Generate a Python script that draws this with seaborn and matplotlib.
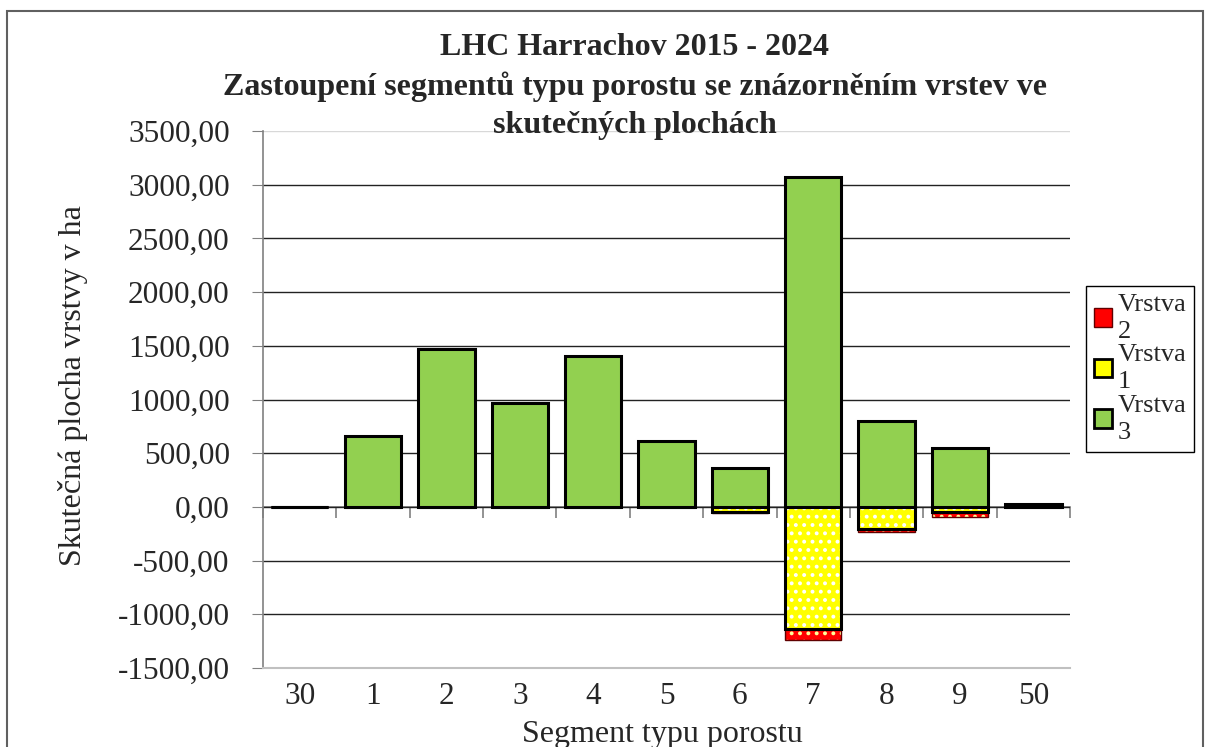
import matplotlib
matplotlib.use("Agg")
import matplotlib.pyplot as plt
import numpy as np
import seaborn as sns
from matplotlib.patches import Patch, Rectangle
from matplotlib.ticker import FuncFormatter

segments = ["30", "1", "2", "3", "4", "5", "6", "7", "8", "9", "50"]
vrstva3 = [2, 659, 1467, 964, 1407, 612, 363, 3070, 799, 544, 25]
vrstva1 = [0, 0, 0, 0, 0, 0, -45, -1133, -208, -50, 0]
vrstva2 = [0, 0, 0, 0, 0, 0, -15, -109, -25, -47, 0]

GREEN = "#92D050"
YELLOW = "#FFFF00"
RED = "#FF0000"

sns.set_style("white")
plt.rcParams["font.family"] = ["Liberation Serif", "DejaVu Serif"]
plt.rcParams["hatch.linewidth"] = 1.6

fig = plt.figure(figsize=(12.06, 7.47), dpi=100)
ax = fig.add_axes([263 / 1206, 1 - 668 / 747, 807 / 1206, 537 / 747])

neg_total = [a + b for a, b in zip(vrstva1, vrstva2)]
bar_w = 0.77

# red layer (total of negative layers), yellow drawn over it
sns.barplot(x=segments, y=neg_total, order=segments, color=RED, saturation=1,
            width=bar_w, edgecolor="#FFFF99", linewidth=0, hatch="..",
            errorbar=None, ax=ax)
sns.barplot(x=segments, y=neg_total, order=segments, color="#600000", fill=False,
            width=bar_w, linewidth=1.0, errorbar=None, ax=ax)
sns.barplot(x=segments, y=vrstva1, order=segments, color=YELLOW, saturation=1,
            width=bar_w, edgecolor="white", linewidth=0, hatch="..",
            errorbar=None, ax=ax)
sns.barplot(x=segments, y=vrstva1, order=segments, color="black", fill=False,
            width=bar_w, linewidth=2.2, errorbar=None, ax=ax)
sns.barplot(x=segments, y=vrstva3, order=segments, color=GREEN, saturation=1,
            width=bar_w, edgecolor="black", linewidth=2.2,
            errorbar=None, ax=ax)

ymin, ymax = -1500, 3500
ax.set_ylim(ymin, ymax)
ax.set_xlim(-0.5, len(segments) - 0.5)
ax.set_yticks(np.arange(ymin, ymax + 1, 500))
ax.yaxis.set_major_formatter(FuncFormatter(lambda v, _: f"{v:.2f}".replace(".", ",")))

ax.set_axisbelow(True)
ax.yaxis.grid(True, color="#222222", linewidth=1.0)
gl = ax.get_ygridlines()
gl[-1].set_color("#d8d8d8")
gl[0].set_visible(False)

for side in ["top", "right"]:
    ax.spines[side].set_visible(False)
ax.spines["left"].set_color("#808080")
ax.spines["bottom"].set_color("#c0c0c0")
ax.spines["left"].set_linewidth(1.2)
ax.spines["bottom"].set_linewidth(1.5)

ax.tick_params(axis="y", direction="out", length=8, color="#808080",
               labelsize=22.5, pad=16, left=True)
ax.tick_params(axis="x", length=0, labelsize=22.5, pad=10)

# zero axis with category boundary ticks
zero_frac = (0 - ymin) / (ymax - ymin)
sec = ax.secondary_xaxis(zero_frac)
sec.set_xticks(np.arange(-0.5, len(segments), 1))
sec.set_xticklabels([])
sec.tick_params(direction="out", length=8, color="#808080", width=1.2)
sec.spines["bottom"].set_color("#808080")
sec.spines["bottom"].set_linewidth(1.2)

ax.set_xlabel("Segment typu porostu", fontsize=23)
ax.set_ylabel("Skutečná plocha vrstvy v ha", fontsize=23)
ax.xaxis.set_label_coords((662 - 263) / 807, (668 - 720) / 537)
ax.yaxis.set_label_coords((88 - 263) / 807, (668 - 386) / 537)

fig.text(635 / 1206, 1 - 33 / 747,
         "LHC Harrachov 2015 - 2024\n"
         "Zastoupení segmentů typu porostu se znázorněním vrstev ve\n"
         "skutečných plochách",
         ha="center", va="top", fontsize=23, fontweight="bold", linespacing=1.4)

handles = [
    Patch(facecolor=RED, edgecolor="#600000", linewidth=1.0),
    Patch(facecolor=YELLOW, edgecolor="black", linewidth=2),
    Patch(facecolor=GREEN, edgecolor="black", linewidth=2),
]
labels = ["Vrstva\n2", "Vrstva\n1", "Vrstva\n3"]
leg = fig.legend(handles, labels, loc="upper left",
                 bbox_to_anchor=(1086 / 1206, 1 - 286 / 747),
                 bbox_transform=fig.transFigure, fontsize=19, frameon=True,
                 fancybox=False, framealpha=1, edgecolor="black",
                 handlelength=0.7, handleheight=0.7, handletextpad=0.2,
                 borderpad=0.3, labelspacing=0.05, borderaxespad=0)
leg.get_frame().set_linewidth(1.0)
for t in leg.get_texts():
    t.set_linespacing(1.3)

fig.patches.append(Rectangle((7 / 1206, -0.05), (1203 - 7) / 1206, (747 - 11) / 747 + 0.05,
                             transform=fig.transFigure, fill=False,
                             edgecolor="#606060", linewidth=1.5))

fig.savefig("out.png", dpi=100)
